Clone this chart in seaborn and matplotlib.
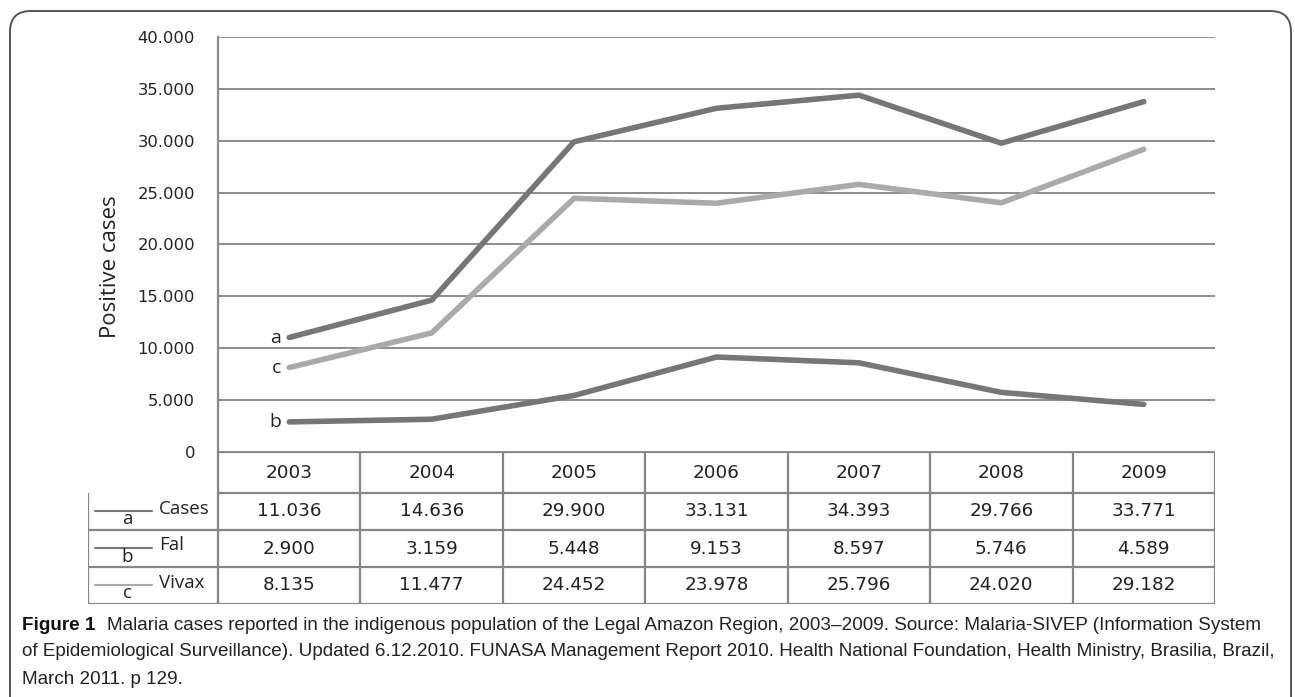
import matplotlib
matplotlib.use("Agg")
import matplotlib.pyplot as plt
from matplotlib import font_manager as fm
from matplotlib.patches import FancyBboxPatch
import seaborn as sns
import pandas as pd

# ---- data ----
years = [2003, 2004, 2005, 2006, 2007, 2008, 2009]
cases = [11036, 14636, 29900, 33131, 34393, 29766, 33771]
fal = [2900, 3159, 5448, 9153, 8597, 5746, 4589]
vivax = [8135, 11477, 24452, 23978, 25796, 24020, 29182]
series_names = ["Cases", "Fal", "Vivax"]
series_letters = ["a", "b", "c"]
y_ticks = [0, 5000, 10000, 15000, 20000, 25000, 30000, 35000, 40000]
caption_bold = "Figure 1"
caption_lines = [
    "Malaria cases reported in the indigenous population of the Legal Amazon Region, 2003\u20132009. Source: Malaria-SIVEP (Information System",
    "of Epidemiological Surveillance). Updated 6.12.2010. FUNASA Management Report 2010. Health National Foundation, Health Ministry, Brasilia, Brazil,",
    "March 2011. p 129.",
]

def fmt(v):
    return f"{v:,}".replace(",", ".")

sns.set_style("white")
plt.rcParams["font.family"] = ["DejaVu Sans"]

W, H = 1295, 697
fig = plt.figure(figsize=(W / 100, H / 100), dpi=100)

colors = {"Cases": "#767676", "Fal": "#767676", "Vivax": "#aaaaaa"}
values = {"Cases": cases, "Fal": fal, "Vivax": vivax}
grid_c = "#8c8c8c"
txt_c = "#222222"
sans2 = ["Open Sans", "DejaVu Sans"]

# main axes
ax = fig.add_axes([218 / W, 1 - 452 / H, (1215 - 218) / W, (452 - 37) / H])
df = pd.DataFrame({
    "year": years * 3,
    "value": cases + fal + vivax,
    "series": sum([[s] * len(years) for s in series_names], []),
})
sns.lineplot(data=df, x="year", y="value", hue="series", palette=colors,
             linewidth=4.0, legend=False, ax=ax, solid_capstyle="round",
             solid_joinstyle="round")
ax.set_xlim(years[0] - 0.5, years[-1] + 0.5)
ax.set_ylim(0, 40000)
ax.set_yticks(y_ticks)
ax.set_yticklabels([fmt(v) for v in y_ticks], fontsize=11.8, color=txt_c)
ax.tick_params(axis="y", length=0, pad=16.5)
ax.set_xticks([])
ax.set_xlabel("")
ax.set_ylabel("")
ax.text(-0.108, 0.446, "Positive cases", transform=ax.transAxes, rotation=90,
        ha="center", va="center", fontsize=16, color=txt_c, family=sans2)
ax.yaxis.grid(True, color=grid_c, linewidth=1.4)
ax.set_axisbelow(True)
for s in ["top", "right", "bottom"]:
    ax.spines[s].set_visible(False)
ax.spines["left"].set_color(grid_c)
ax.spines["left"].set_linewidth(1.6)

for name, letter in zip(series_names, series_letters):
    ax.annotate(letter, (years[0], values[name][0]), xytext=(-6, 0),
                textcoords="offset points", ha="right", va="center",
                fontsize=14, color=txt_c, family=sans2)

# table axes
tax = fig.add_axes([88 / W, 1 - 604 / H, (1215 - 88) / W, 152 / H])
col_w = 997 / 7
lab_w = 130 / col_w
x0 = years[0] - 0.5
tax.set_xlim(x0 - lab_w, years[-1] + 0.5)
row_edges = [0, 41, 78, 115, 152]
tax.set_ylim(152, 0)
tax.axis("off")
tc = "#858585"
lw = 1.6
tax.hlines(row_edges[0:2], x0, years[-1] + 0.5, color=tc, lw=lw)
tax.hlines(row_edges[2:], x0 - lab_w, years[-1] + 0.5, color=tc, lw=lw)
for i in range(len(years) + 1):
    tax.vlines(x0 + i, 0, 152, color=tc, lw=lw)
tax.vlines(x0 - lab_w, row_edges[1], 152, color=tc, lw=lw)

for j, yr in enumerate(years):
    tax.text(yr, (row_edges[0] + row_edges[1]) / 2 + 1, str(yr), ha="center",
             va="center", fontsize=13.2, color=txt_c)
for i, name in enumerate(series_names):
    yc = (row_edges[i + 1] + row_edges[i + 2]) / 2
    for j, yr in enumerate(years):
        tax.text(yr, yc, fmt(values[name][j]), ha="center", va="center",
                 fontsize=13.2, color=txt_c)
    tax.text(x0 - lab_w + 71 / col_w, yc - 3, name, ha="left", va="center",
             fontsize=13.5, color=txt_c, family=sans2)
    tax.plot([x0 - lab_w + 7 / col_w, x0 - lab_w + 64 / col_w], [yc - 1, yc - 1],
             color=colors[name], lw=1.5)
    tax.text(x0 - lab_w + 39 / col_w, yc + 8, series_letters[i], ha="center",
             va="center", fontsize=13.5, color=txt_c, family=sans2)

# outer rounded frame
frame = FancyBboxPatch((10 / W, -0.1), (1291 - 10) / W, (1 - 11 / H) + 0.1,
                       boxstyle="round,pad=0,rounding_size=0.016",
                       transform=fig.transFigure, fill=False,
                       edgecolor="#555555", linewidth=1.4,
                       mutation_aspect=W / H)
fig.patches.append(frame)

# caption
names = {f.name for f in fm.fontManager.ttflist}
cap_family = "Liberation Sans Narrow" if "Liberation Sans Narrow" in names else "Liberation Sans"
cap_size = 16.5 if cap_family == "Liberation Sans Narrow" else 13.6
line_y = [625, 652, 679]
renderer = fig.canvas.get_renderer()
t = fig.text(22 / W, 1 - line_y[0] / H, caption_bold, ha="left", va="center",
             fontsize=cap_size, fontweight="bold", family=cap_family,
             color="#111111")
bb = t.get_window_extent(renderer)
fig.text((bb.x1 + 12) / W, 1 - line_y[0] / H, caption_lines[0], ha="left",
         va="center", fontsize=cap_size, family=cap_family, color=txt_c)
for k in (1, 2):
    fig.text(22 / W, 1 - line_y[k] / H, caption_lines[k], ha="left",
             va="center", fontsize=cap_size, family=cap_family, color=txt_c)

fig.savefig("out.png", dpi=100)
